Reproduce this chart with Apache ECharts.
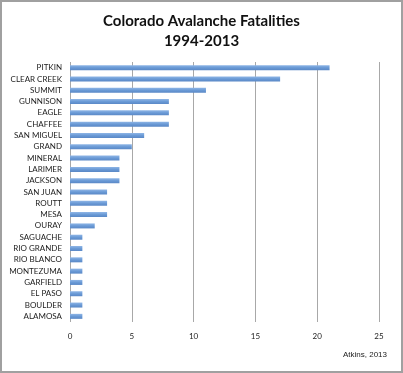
<!DOCTYPE html>
<html><head><meta charset="utf-8">
<script src="https://cdn.jsdelivr.net/npm/echarts@6/dist/echarts.min.js"></script>
<style>html,body{margin:0;padding:0;background:#fff}#c{width:403px;height:373px}</style>
</head><body><div id="c"></div>
<script>
const categories = ["PITKIN","CLEAR CREEK","SUMMIT","GUNNISON","EAGLE","CHAFFEE","SAN MIGUEL","GRAND","MINERAL","LARIMER","JACKSON","SAN JUAN","ROUTT","MESA","OURAY","SAGUACHE","RIO GRANDE","RIO BLANCO","MONTEZUMA","GARFIELD","EL PASO","BOULDER","ALAMOSA"];
const fatalities = [21,17,11,8,8,8,6,5,4,4,4,3,3,3,2,1,1,1,1,1,1,1,1];
const xTicks = [0,5,10,15,20,25];

const chart = echarts.init(document.getElementById('c'), null, {renderer:'canvas'});
chart.setOption({
  animation:false,
  title:{
    text:'Colorado Avalanche Fatalities\n1994-2013',
    left:'center', top:6,
    textStyle:{fontFamily:'Lato',fontWeight:'bold',fontSize:15,lineHeight:20,color:'#111'}
  },
  grid:{left:70,right:24,top:62,bottom:51,containLabel:false},
  xAxis:{
    type:'value',min:xTicks[0],max:xTicks[xTicks.length-1],interval:5,
    axisLine:{show:false},axisTick:{show:false},
    axisLabel:{margin:10,fontSize:8,fontFamily:'Lato',color:'#222'},
    splitLine:{lineStyle:{color:'#a8a8a8',width:1}}
  },
  yAxis:{
    type:'category',data:categories,inverse:true,
    axisLine:{show:false},axisTick:{show:false},
    axisLabel:{fontSize:8,fontFamily:'Lato',color:'#222',margin:8,interval:0}
  },
  series:[{
    type:'bar',data:fatalities,barWidth:5,
    itemStyle:{color:new echarts.graphic.LinearGradient(0,0,0,1,[{offset:0,color:'#8fb6e6'},{offset:0.5,color:'#6a9ad6'},{offset:1,color:'#5a88c6'}])}
  }],
  graphic:[
    {type:'rect',shape:{x:1,y:1,width:401,height:371},style:{fill:null,stroke:'#a0a0a0',lineWidth:2},silent:true},
    {type:'text',right:16,top:351,style:{text:'Atkins, 2013',fontSize:8,fontFamily:'Liberation Sans',fill:'#222'}}
  ]
});
</script></body></html>
